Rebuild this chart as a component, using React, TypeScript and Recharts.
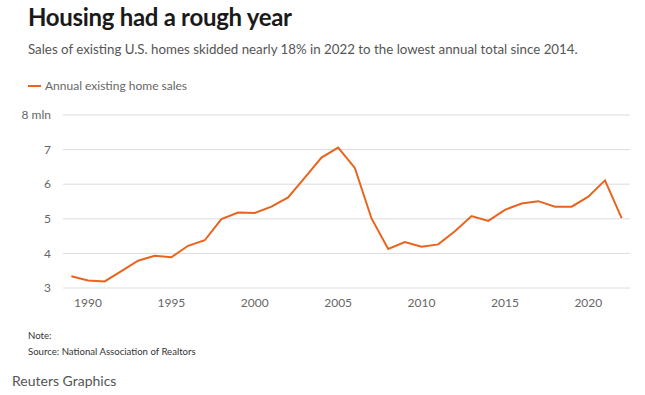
import { LineChart, Line, XAxis, YAxis, CartesianGrid } from "recharts"

const years = [
  1989, 1990, 1991, 1992, 1993, 1994, 1995, 1996, 1997, 1998, 1999, 2000,
  2001, 2002, 2003, 2004, 2005, 2006, 2007, 2008, 2009, 2010, 2011, 2012,
  2013, 2014, 2015, 2016, 2017, 2018, 2019, 2020, 2021, 2022,
]
const sales = [
  3.34, 3.22, 3.19, 3.49, 3.79, 3.93, 3.89, 4.22, 4.38, 4.99, 5.18, 5.17,
  5.35, 5.62, 6.19, 6.77, 7.06, 6.47, 5.01, 4.13, 4.33, 4.19, 4.26, 4.64,
  5.08, 4.94, 5.26, 5.44, 5.51, 5.35, 5.35, 5.64, 6.11, 5.02,
]
const xTicks = [1990, 1995, 2000, 2005, 2010, 2015, 2020]
const yTicks = [3, 4, 5, 6, 7, 8]

const data = years.map((year, i) => ({ year, sales: sales[i] }))

const orange = "#e8641e"
const font = "Lato, 'Noto Sans', sans-serif"

export default function App() {
  return (
    <div
      style={{
        position: "absolute",
        left: 0,
        top: 0,
        width: 645,
        height: 395,
        background: "#fff",
        fontFamily: font,
      }}
    >
      <div
        style={{
          position: "absolute",
          left: 28,
          top: 2,
          fontSize: 24,
          fontWeight: 700,
          color: "#1a1a1a",
          letterSpacing: -0.3,
        }}
      >
        Housing had a rough year
      </div>
      <div style={{ position: "absolute", left: 28, top: 41, fontSize: 13.3, color: "#555" }}>
        Sales of existing U.S. homes skidded nearly 18% in 2022 to the lowest annual total since 2014.
      </div>
      <div
        style={{
          position: "absolute",
          left: 28,
          top: 78,
          fontSize: 12,
          color: "#666",
          display: "flex",
          alignItems: "center",
        }}
      >
        <span style={{ display: "inline-block", width: 13, height: 2, background: orange, marginRight: 4 }} />
        Annual existing home sales
      </div>

      <div style={{ position: "absolute", left: 0, top: 0 }}>
        <LineChart
          width={645}
          height={320}
          data={data}
          margin={{ top: 115, right: 15, bottom: 2, left: 0 }}
        >
          <CartesianGrid vertical={false} stroke="#dcdcdc" />
          <XAxis
            dataKey="year"
            type="number"
            domain={[1988.5, 2022.5]}
            ticks={xTicks}
            axisLine={false}
            tickLine={false}
            tick={{ fill: "#666", fontSize: 12, fontFamily: font }}
            tickMargin={4}
            height={30}
          />
          <YAxis
            domain={[3, 8]}
            ticks={yTicks}
            width={63}
            axisLine={false}
            tickLine={false}
            tickMargin={6}
            tick={{ fill: "#666", fontSize: 12, fontFamily: font }}
            tickFormatter={(v: number) => (v === 8 ? "8 mln" : String(v))}
          />
          <Line
            dataKey="sales"
            stroke={orange}
            strokeWidth={2}
            dot={false}
            isAnimationActive={false}
          />
        </LineChart>
      </div>

      <div style={{ position: "absolute", left: 28, top: 328, fontSize: 9.6, color: "#333", lineHeight: "16px" }}>
        <div>Note:</div>
        <div>Source: National Association of Realtors</div>
      </div>
      <div style={{ position: "absolute", left: 12, top: 372, fontSize: 14, color: "#555" }}>
        Reuters Graphics
      </div>
    </div>
  )
}
